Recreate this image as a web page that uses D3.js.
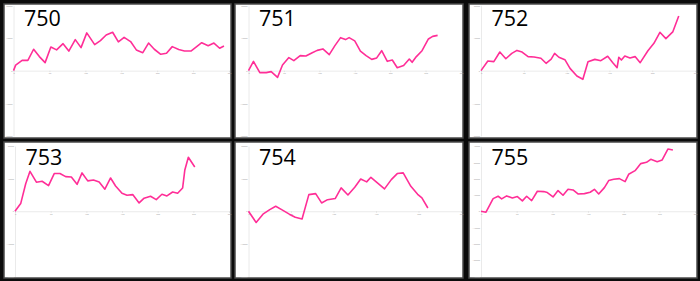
<!DOCTYPE html>
<html>
<head>
<meta charset="utf-8">
<script src="https://cdn.jsdelivr.net/npm/d3@7"></script>
<style>
  html, body { margin: 0; padding: 0; background: #0b0b0b; }
  svg { display: block; }
</style>
</head>
<body>
<div id="chart"></div>
<script>
// Panel titles, in grid order (left to right, top to bottom)
const titles = ["750", "751", "752", "753", "754", "755"];

// Day offsets and running values for each panel
const days750 = [0, 3, 12, 20, 28, 36, 44, 52, 60, 69, 77, 86, 94, 102, 113, 121, 129, 138, 146, 154,
                 163, 171, 180, 188, 196, 205, 213, 221, 230, 238, 247, 255, 262, 271, 279, 287, 293];
const pnl750  = [0, 1700, 3150, 3150, 6550, 4300, 2450, 7250, 6350, 8250, 6000, 9500, 7050, 11550, 7950, 9200, 10900, 11750, 8800, 10200,
                 8900, 6350, 5500, 8450, 6550, 5000, 5300, 7350, 6450, 6000, 6000, 7350, 8550, 7650, 8450, 6850, 7550];

const days751 = [0, 7, 16, 25, 32, 41, 48, 57, 64, 73, 81, 90, 97, 105, 114, 122, 130, 137, 142, 150,
                 158, 166, 174, 181, 188, 196, 203, 210, 219, 227, 231, 237, 245, 254, 260, 267];
const pnl751  = [0, 2850, -600, -600, -300, -2050, 1750, 4000, 3050, 4600, 4500, 5500, 6200, 6650, 4900, 7650, 10100, 9500, 10100, 9100,
                 6000, 4600, 3450, 3900, 6100, 2850, 3250, 900, 1550, 3550, 2550, 4300, 6100, 9700, 10500, 10800];

const days752 = [0, 8, 15, 22, 29, 36, 42, 48, 55, 62, 70, 76, 82, 86, 91, 98, 104, 112, 119, 125,
                 133, 140, 148, 154, 159, 161, 164, 168, 174, 180, 186, 195, 202, 209, 216, 224, 231];
const pnl752  = [0, 2950, 2750, 5700, 3650, 5300, 6200, 5700, 4300, 4200, 3800, 2250, 3550, 5300, 4100, 3350, 700, -1650, -2650, 2750,
                 3450, 3050, 4400, 2450, 900, 4100, 3250, 4500, 3900, 4300, 2450, 6100, 8350, 11750, 9800, 11850, 16750];

const days753 = [0, 8, 15, 21, 30, 38, 47, 55, 63, 71, 79, 87, 94, 102, 110, 118, 126, 134, 141, 150,
                 157, 165, 174, 181, 190, 198, 206, 213, 221, 228, 235, 238, 243, 252];
const pnl753  = [0, 2350, 8450, 12250, 8900, 9200, 7850, 11550, 11550, 10600, 10500, 8250, 11750, 9300, 9600, 9000, 6750, 10200, 7750, 5500,
                 4900, 5100, 2550, 4000, 4600, 3550, 5200, 4700, 5900, 5500, 7150, 12550, 16550, 13550];

const days754 = [0, 9, 17, 25, 32, 39, 48, 55, 63, 71, 79, 86, 93, 102, 109, 117, 125, 132, 139, 144,
                 152, 160, 168, 175, 182, 191, 199, 204, 211];
const pnl754  = [0, -3450, -900, 500, 1550, 500, -900, -1850, -2350, 5100, 5400, 2550, 3550, 3900, 7150, 5000, 7350, 9900, 9000, 10400,
                 8650, 6850, 9700, 11550, 11750, 7650, 5200, 4100, 1000];

const days755 = [0, 7, 17, 24, 29, 36, 44, 51, 58, 64, 71, 79, 88, 93, 101, 108, 115, 122, 129, 136,
                 145, 153, 159, 165, 173, 179, 186, 194, 202, 207, 216, 224, 232, 238, 247, 254, 262, 269];
const pnl755  = [0, -600, 7750, 9200, 7550, 9400, 8150, 9000, 6350, 9200, 6550, 12250, 12050, 11450, 8800, 12650, 9800, 13450, 13050, 10600,
                 10800, 11650, 13450, 10600, 14500, 18800, 19600, 20000, 18150, 22650, 24900, 29200, 30000, 31850, 30400, 31450, 38150, 37550];

const allDays = [days750, days751, days752, days753, days754, days755];
const allPnl  = [pnl750, pnl751, pnl752, pnl753, pnl754, pnl755];

// Layout
const width = 700, height = 281;
const colX = [4, 235, 469], colW = [227, 228, 228];
const rowY = [4, 142], rowH = [134, 136];
const leftM = [9.5, 13.5, 12, 11, 13.5, 12];
const topM = [1.3, 4], bottomM = [2, 1.5], rightM = 2;
const yStep = 10000;

const svg = d3.select("#chart").append("svg")
    .attr("width", width)
    .attr("height", height);

svg.append("rect")
    .attr("width", width)
    .attr("height", height)
    .attr("fill", "#0b0b0b");

const styleAxis = g => g
    .call(g => g.select(".domain").attr("stroke", "#e4e4e4").attr("stroke-width", 0.8))
    .call(g => g.selectAll(".tick line").attr("stroke", "#d8d8d8").attr("stroke-width", 0.6))
    .call(g => g.selectAll(".tick text")
        .attr("fill", "#9a9a9a")
        .attr("font-size", 2.2)
        .attr("font-family", "'Open Sans', sans-serif"));

titles.forEach((title, i) => {
    const col = i % 3, row = Math.floor(i / 3);
    const W = colW[col], H = rowH[row];
    const margin = {top: topM[row], right: rightM, bottom: bottomM[row], left: leftM[i]};
    const innerW = W - margin.left - margin.right;
    const innerH = H - margin.top - margin.bottom;
    const data = d3.zip(allDays[i], allPnl[i]);

    const yMax = Math.ceil(d3.max(data, d => Math.abs(d[1])) / yStep) * yStep;
    const xScale = d3.scaleLinear().domain([0, d3.max(data, d => d[0])]).nice(6).range([0, innerW]);
    const yScale = d3.scaleLinear().domain([-yMax, yMax]).range([innerH, 0]);

    const panel = svg.append("g")
        .attr("transform", `translate(${colX[col]}, ${rowY[row]})`);

    panel.append("rect")
        .attr("x", 0).attr("y", 0)
        .attr("width", W).attr("height", H)
        .attr("fill", "#fff")
        .attr("stroke", "#4a4a4a")
        .attr("stroke-width", 1.5);

    const innerG = panel.append("g")
        .attr("transform", `translate(${margin.left}, ${margin.top})`);

    innerG.append("g")
        .call(d3.axisLeft(yScale)
            .tickValues(d3.range(-yMax, yMax + 1, yStep))
            .tickSize(0)
            .tickPadding(1)
            .tickFormat(d3.format("d")))
        .call(styleAxis);

    innerG.append("g")
        .attr("transform", `translate(0, ${yScale(0)})`)
        .call(d3.axisBottom(xScale).ticks(6).tickSize(1.5).tickPadding(0.5))
        .call(styleAxis);

    innerG.append("path")
        .datum(data)
        .attr("fill", "none")
        .attr("stroke", "#ff2e97")
        .attr("stroke-width", 1.6)
        .attr("stroke-linejoin", "round")
        .attr("d", d3.line().x(d => xScale(d[0])).y(d => yScale(d[1])));

    panel.append("text")
        .attr("x", margin.left + 10.5)
        .attr("y", row === 0 ? 21.5 : 23)
        .attr("font-family", "'Open Sans', sans-serif")
        .attr("font-size", 21.5)
        .attr("fill", "#000")
        .text(title);
});
</script>
</body>
</html>
